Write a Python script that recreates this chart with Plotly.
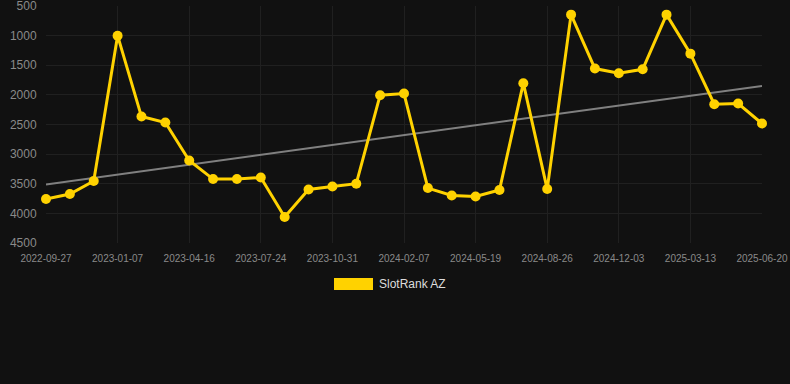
import plotly.graph_objects as go

dates = [
    "2022-09-27", "2022-10-31", "2022-12-04", "2023-01-07", "2023-02-08",
    "2023-03-14", "2023-04-16", "2023-05-19", "2023-06-21", "2023-07-24",
    "2023-08-26", "2023-09-28", "2023-10-31", "2023-12-03", "2024-01-05",
    "2024-02-07", "2024-03-11", "2024-04-15", "2024-05-19", "2024-06-21",
    "2024-07-24", "2024-08-26", "2024-09-28", "2024-10-31", "2024-12-03",
    "2025-01-05", "2025-02-08", "2025-03-13", "2025-04-15", "2025-05-18",
    "2025-06-20",
]
rank = [
    3758, 3674, 3455, 1001, 2366, 2467, 3107, 3421, 3421, 3394,
    4062, 3596, 3546, 3500, 2006, 1978, 3573, 3697, 3714, 3606,
    1803, 3590, 646, 1556, 1635, 1568, 646, 1304, 2157, 2147,
    2484,
]
trend_x = [dates[0], dates[-1]]
trend_y = [3512, 1848]
tick_labels = dates[::3]
y_ticks = [500, 1000, 1500, 2000, 2500, 3000, 3500, 4000, 4500]
series_name = "SlotRank AZ"

BG = "#111111"
GRID = "#202020"
YELLOW = "#FFD200"
FONT = "Liberation Sans, Arial, sans-serif"

fig = go.Figure()
fig.add_trace(go.Scatter(
    x=trend_x, y=trend_y, mode="lines",
    line=dict(color="#808080", width=2), showlegend=False, hoverinfo="skip",
    cliponaxis=False,
))
fig.add_trace(go.Scatter(
    x=dates, y=rank, mode="lines+markers", name=series_name,
    line=dict(color=YELLOW, width=3),
    marker=dict(color=YELLOW, size=10),
    showlegend=False, cliponaxis=False,
))

fig.update_layout(
    width=790, height=384,
    margin=dict(l=46, r=28, t=6, b=141, autoexpand=False),
    paper_bgcolor=BG, plot_bgcolor=BG,
    font=dict(family=FONT, color="#8a8a8a"),
    xaxis=dict(
        type="category", categoryorder="array", categoryarray=dates,
        range=[0, len(dates) - 1], automargin=False,
        tickmode="array", tickvals=tick_labels, ticktext=tick_labels,
        tickfont=dict(size=10, color="#8a8a8a"), ticklabeloverflow="allow",
        showgrid=True, gridcolor=GRID, gridwidth=1,
        zeroline=False, showline=False,
        ticks="outside", ticklen=6, tickcolor=BG,
    ),
    yaxis=dict(
        range=[4500, 500], autorange=False, automargin=False,
        tickmode="array", tickvals=y_ticks,
        tickfont=dict(size=12, color="#8a8a8a"), ticklabeloverflow="allow",
        showgrid=True, gridcolor=GRID, gridwidth=1,
        zeroline=False, showline=False,
        ticks="outside", ticklen=6, tickcolor=BG,
    ),
)

# legend drawn manually
fig.add_shape(type="rect", xref="paper", yref="paper",
              x0=(334 - 46) / 716, x1=(373 - 46) / 716,
              y0=(243 - 290) / 237, y1=(243 - 278) / 237,
              fillcolor=YELLOW, line=dict(width=0))
fig.add_annotation(xref="paper", yref="paper",
                   x=(377 - 46) / 716, y=(243 - 284) / 237,
                   xanchor="left", yanchor="middle", showarrow=False,
                   text=series_name, font=dict(size=12, color="#dddddd", family=FONT))

fig.write_html("out.html")
